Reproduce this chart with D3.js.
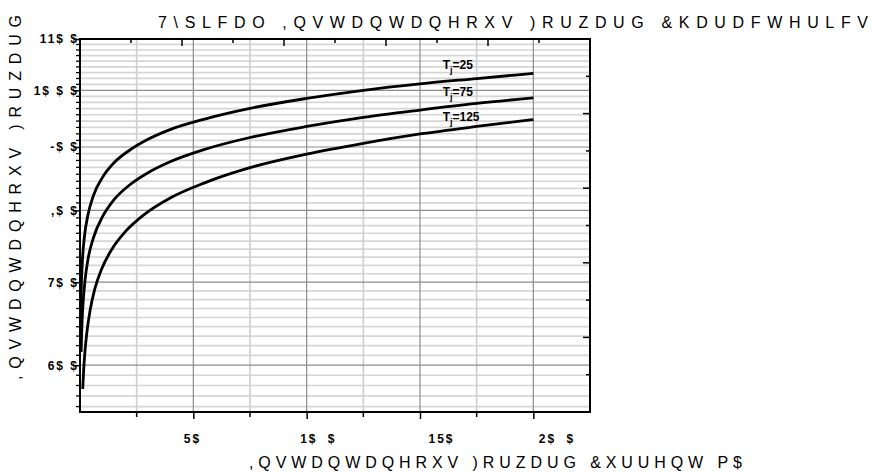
<!DOCTYPE html>
<html>
<head>
<meta charset="utf-8">
<script src="https://cdn.jsdelivr.net/npm/d3@7"></script>
<style>
  body { margin: 0; background: #fff; }
  svg { display: block; font-family: 'Liberation Sans', Arial, sans-serif; }
  .tick-label { font-weight: bold; font-size: 12px; letter-spacing: 2px; }
  .x-tick { word-spacing: 5px; }
  .legends { font-size: 16px; }
  .curve-label { font-weight: bold; font-size: 12px; }
</style>
</head>
<body>
<script>
// text as it shows in the picture (the pdf font is shifted)
const titleText = '7\\SLFDO ,QVWDQWDQHRXV )RUZDUG &KDUDFWHULFV'
const xLabelText = ',QVWDQWDQHRXV )RUZDUG &XUUHQW P$'
const yLabelText = ',QVWDQWDQHRXV )RUZDUG'

// x ticks (mA) and their labels
const xMajor = [50, 100, 150, 200]
const xMinor = [25, 75, 125, 175]
const xTickText = ['5$', '1$ $', '15$', '2$ $']

// y ticks (mV) and their labels
const yMajor = [600, 700, 800, 900, 1000, 1100]
const yTickText = ['6$ $', '7$ $', ',$ $', '-$ $', '1$ $ $', '11$ $']

// curves: current mA, voltage mV
const seriesNames = ['25', '75', '125']
const currentT25 = [0.3, 0.5, 1, 2, 3.5, 6, 10, 15, 22, 30, 40, 55, 75, 100, 125, 150, 175, 200]
const voltageT25 = [659, 687, 725, 763, 793, 823, 851, 874, 895, 913, 930, 948, 967, 985, 1000, 1012, 1022, 1032]
const currentT75 = [0.5, 0.8, 1.3, 2.2, 3.5, 6, 10, 15, 22, 30, 40, 55, 75, 100, 125, 150, 175, 200]
const voltageT75 = [615, 643, 671, 702, 730, 761, 791, 816, 839, 858, 876, 896, 916, 935, 951, 964, 976, 986]
const currentT125 = [1.2, 1.6, 2.2, 3, 4.5, 6.5, 9.5, 14, 20, 28, 40, 55, 75, 100, 125, 150, 175, 200]
const voltageT125 = [574, 594, 616, 637, 665, 691, 717, 744, 769, 793, 819, 842, 866, 888, 906, 922, 935, 947]

// where the T labels sit (mA, mV)
const labelCurrent = 160
const labelVoltage = [1040, 989, 944]

const width = 872,
  height = 474,
  margin = { top: 39, bottom: 62, right: 282, left: 80 }

const series = [
  { name: seriesNames[0], values: currentT25.map((c, i) => [c, voltageT25[i]]) },
  { name: seriesNames[1], values: currentT75.map((c, i) => [c, voltageT75[i]]) },
  { name: seriesNames[2], values: currentT125.map((c, i) => [c, voltageT125[i]]) },
]

const x = d3.scaleLinear().domain([0, 225]).range([margin.left, width - margin.right])
const y = d3.scaleLog().domain([550, 1100]).range([height - margin.bottom, margin.top])

// 9 steps between every pair of labelled values
const yMinor = d3.range(-4, 46)
  .filter((k) => k % 9 !== 0)
  .map((k) => 600 + (k * 100) / 9)

// top and right axes carry their own evenly spaced ticks
const topScale = d3.scaleLinear().domain([0, 10]).range(x.range())
const rightScale = d3.scaleLinear().domain([0, 10]).range(y.range())

const svg = d3.select('body').append('svg').attr('width', width).attr('height', height)

const x0 = x.range()[0], x1 = x.range()[1]
const y0 = y.range()[0], y1 = y.range()[1]

// grid
const grid = svg.append('g')
grid.selectAll('.hminor').data(yMinor).enter().append('line')
  .attr('x1', x0).attr('x2', x1)
  .attr('y1', (d) => y(d)).attr('y2', (d) => y(d))
  .attr('stroke', '#d6d6d6').attr('stroke-width', 1.7)
grid.selectAll('.vminor').data(xMinor).enter().append('line')
  .attr('x1', (d) => x(d)).attr('x2', (d) => x(d))
  .attr('y1', y0).attr('y2', y1)
  .attr('stroke', '#d0d0d0').attr('stroke-width', 1.7)
grid.selectAll('.hmajor').data(yMajor).enter().append('line')
  .attr('x1', x0).attr('x2', x1)
  .attr('y1', (d) => y(d)).attr('y2', (d) => y(d))
  .attr('stroke', '#8c8c8c').attr('stroke-width', 1.2)
grid.selectAll('.vmajor').data(xMajor).enter().append('line')
  .attr('x1', (d) => x(d)).attr('x2', (d) => x(d))
  .attr('y1', y0).attr('y2', y1)
  .attr('stroke', '#8c8c8c').attr('stroke-width', 1.2)

// curves
const line = d3.line()
  .x((d) => x(d[0]))
  .y((d) => y(d[1]))
  .curve(d3.curveMonotoneX)

svg.selectAll('.curve').data(series).enter().append('path')
  .attr('d', (d) => line(d.values))
  .attr('fill', 'none')
  .attr('stroke', '#000')
  .attr('stroke-width', 2.8)

// frame
svg.append('rect')
  .attr('x', x0).attr('y', y1)
  .attr('width', x1 - x0).attr('height', y0 - y1)
  .attr('fill', 'none').attr('stroke', '#000').attr('stroke-width', 2)

// bottom axis
const labelShift = [-10, -7, 8, 5]
const bottom = svg.append('g').attr('transform', `translate(0,${y0})`)
bottom.call(d3.axisBottom(x).tickValues(xMajor).tickSize(7).tickFormat((d, i) => xTickText[i]))
bottom.select('.domain').remove()
bottom.selectAll('line').attr('stroke', '#000').attr('stroke-width', 1.5)
bottom.selectAll('text')
  .attr('class', 'tick-label x-tick')
  .attr('fill', '#000')
  .attr('text-anchor', 'start')
  .attr('y', 22)
  .attr('dx', (d, i) => labelShift[i])
bottom.selectAll('.minor').data(xMinor).enter().append('line')
  .attr('x1', (d) => x(d)).attr('x2', (d) => x(d))
  .attr('y1', 0).attr('y2', 5)
  .attr('stroke', '#000').attr('stroke-width', 1.5)

// left axis
const left = svg.append('g').attr('transform', `translate(${x0},0)`)
left.call(d3.axisLeft(y).tickValues(yMajor).tickSize(6).tickPadding(-5).tickFormat((d, i) => yTickText[i]))
left.select('.domain').remove()
left.selectAll('line').attr('stroke', '#000').attr('stroke-width', 1.5)
left.selectAll('text').attr('class', 'tick-label').attr('fill', '#000')
left.selectAll('.minor').data(yMinor).enter().append('line')
  .attr('x1', -4).attr('x2', 1)
  .attr('y1', (d) => y(d)).attr('y2', (d) => y(d))
  .attr('stroke', '#000').attr('stroke-width', 1.3)

// top axis ticks (inward)
svg.append('g').selectAll('line').data(d3.range(1, 10)).enter().append('line')
  .attr('x1', (d) => topScale(d)).attr('x2', (d) => topScale(d))
  .attr('y1', y1).attr('y2', (d) => y1 + (d % 2 === 0 ? 7 : 4))
  .attr('stroke', '#000').attr('stroke-width', 1.5)

// right axis ticks (inward)
svg.append('g').selectAll('line').data(d3.range(1, 10)).enter().append('line')
  .attr('x1', x1).attr('x2', (d) => x1 - (d % 2 === 0 ? 7 : 4))
  .attr('y1', (d) => rightScale(d)).attr('y2', (d) => rightScale(d))
  .attr('stroke', '#000').attr('stroke-width', 1.5)

// curve labels: T with subscript j
const lbl = svg.selectAll('.curve-label').data(series).enter().append('text')
  .attr('class', 'curve-label')
  .attr('x', x(labelCurrent))
  .attr('y', (d, i) => y(labelVoltage[i]))
lbl.append('tspan').text('T')
lbl.append('tspan').text('j').attr('font-size', 9).attr('dy', 4)
lbl.append('tspan').text((d) => '=' + d.name).attr('dy', -4)

// titles
svg.append('text')
  .classed('legends', true)
  .attr('x', 158).attr('y', 28)
  .attr('textLength', 710).attr('lengthAdjust', 'spacing')
  .text(titleText)

svg.append('text')
  .classed('legends', true)
  .attr('x', 249).attr('y', 468)
  .attr('textLength', 493).attr('lengthAdjust', 'spacing')
  .text(xLabelText)

svg.append('text')
  .classed('legends', true)
  .attr('transform', 'translate(21,380) rotate(-90)')
  .attr('textLength', 365).attr('lengthAdjust', 'spacing')
  .text(yLabelText)
</script>
</body>
</html>
